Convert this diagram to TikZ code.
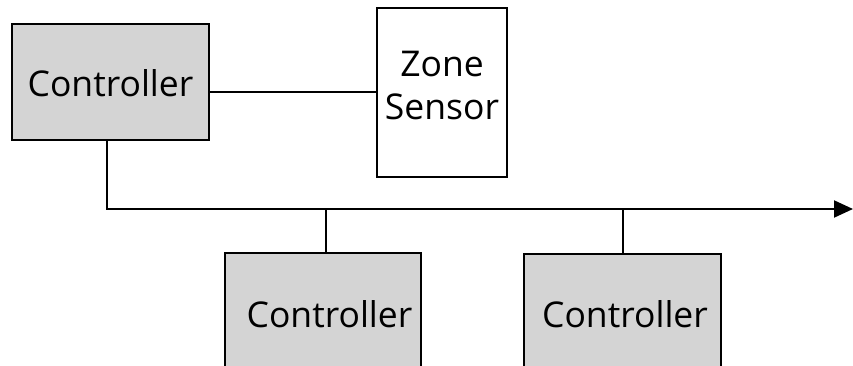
\documentclass[tikz,border=0pt]{standalone}
\usepackage{fontspec}
\setmainfont{Open Sans}
\usetikzlibrary{arrows.meta}
\definecolor{boxgrey}{HTML}{D4D4D4}
\begin{document}
\begin{tikzpicture}[x=1pt,y=-1pt,
  ctrlbox/.style={draw=black,line width=2pt,fill=boxgrey,inner sep=0pt},
  sensorbox/.style={draw=black,line width=2pt,fill=white,inner sep=0pt},
  lbl/.style={font=\fontsize{35.5}{43}\selectfont,inner sep=0pt,anchor=base},
  wire/.style={line width=2pt}]
\useasboundingbox (0,0) rectangle (853,366);
\clip (0,0) rectangle (853,366);

% boxes
\node[ctrlbox,minimum width=197pt,minimum height=116pt] (c1) at (110.5,82) {};
\node[sensorbox,minimum width=130pt,minimum height=169pt] (zs) at (442,92.5) {};
\node[ctrlbox,minimum width=196pt,minimum height=160pt] (c2) at (323,333) {};
\node[ctrlbox,minimum width=197pt,minimum height=160pt] (c3) at (622.5,334) {};

% labels
\node[lbl] (c1t) at (110.5,97) {Controller};
\node[lbl,align=center] (zst) at (442,120) {Zone\\Sensor};
\node[lbl] (c2t) at (329.5,327) {Controller};
\node[lbl] (c3t) at (625,327) {Controller};

% bus
\coordinate (busL) at (107,209);
\coordinate (busR) at (853,209);
\coordinate (tap2) at (326,209);
\coordinate (tap3) at (623,209);

% connectors
\draw[wire] (c1.east |- zs.west) -- (zs.west);
\draw[wire,-{Triangle[length=19pt,width=17pt]}] (c1.south -| busL) -- (busL) -- (busR);
\draw[wire] (tap2) -- (c2.north -| tap2);
\draw[wire] (tap3) -- (c3.north -| tap3);
\end{tikzpicture}
\end{document}
